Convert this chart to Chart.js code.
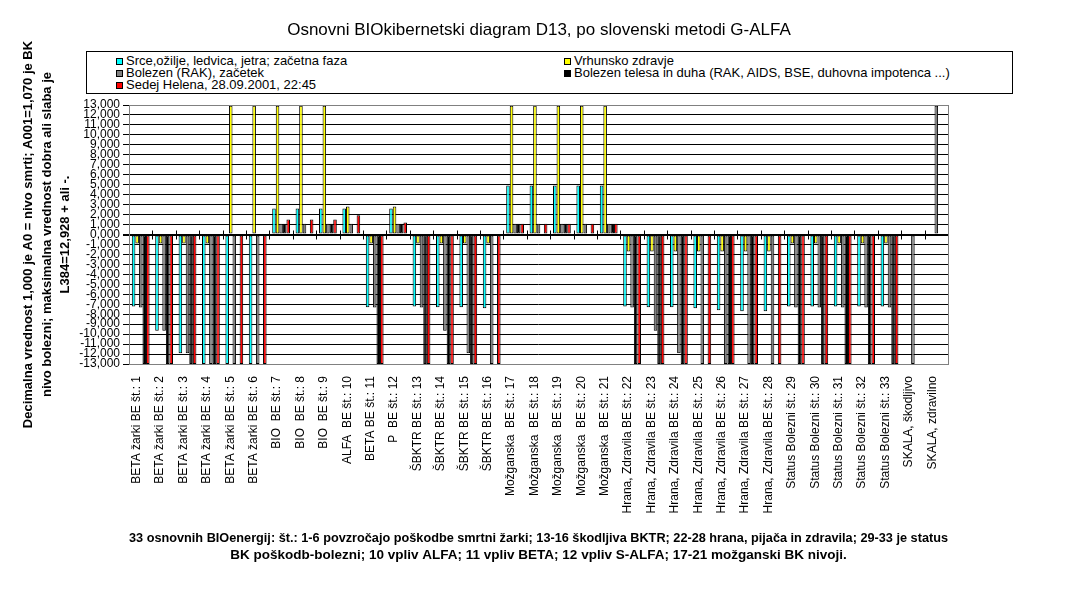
<!DOCTYPE html>
<html>
<head>
<meta charset="utf-8">
<script src="https://cdn.jsdelivr.net/npm/chart.js@4.4.0/dist/chart.umd.min.js"></script>
<style>
  body { margin: 0; background: #fff; }
  #wrap { position: relative; width: 1078px; height: 601px; }
  #legend {
    position: absolute; left: 86px; top: 51px; width: 896px; height: 38px;
    border: 1px solid #000; background: #fff; padding: 3px 0 0 29px;
    display: grid; grid-template-columns: 448px 420px; grid-auto-rows: 12px;
    font: 13px "Liberation Sans", Arial, sans-serif; color: #000;
  }
  #legend div { display: flex; align-items: center; white-space: pre; line-height: 12px; }
  #legend span.box { width: 5px; height: 5px; border: 1px solid #000; margin-right: 3px; }
</style>
</head>
<body>
<div id="wrap">
  <canvas id="myChart" width="1078" height="601"></canvas>
  <div id="legend"></div>
</div>
<script>
// categories (x axis)
const labels = [
  'BETA žarki BE št.: 1', 'BETA žarki BE št.: 2', 'BETA žarki BE št.: 3', 'BETA žarki BE št.: 4',
  'BETA žarki BE št.: 5', 'BETA žarki BE št.: 6', 'BIO  BE št.: 7', 'BIO  BE št.: 8', 'BIO  BE št.: 9',
  'ALFA  BE št.: 10', 'BETA BE št.: 11', 'P  BE št.: 12', 'ŠBKTR BE št.: 13', 'ŠBKTR BE št.: 14',
  'ŠBKTR BE št.: 15', 'ŠBKTR BE št.: 16', 'Možganska  BE št.: 17', 'Možganska  BE št.: 18',
  'Možganska  BE št.: 19', 'Možganska  BE št.: 20', 'Možganska  BE št.: 21',
  'Hrana, Zdravila BE št.: 22', 'Hrana, Zdravila BE št.: 23', 'Hrana, Zdravila BE št.: 24',
  'Hrana, Zdravila BE št.: 25', 'Hrana, Zdravila BE št.: 26', 'Hrana, Zdravila BE št.: 27',
  'Hrana, Zdravila BE št.: 28', 'Status Bolezni št.: 29', 'Status Bolezni št.: 30',
  'Status Bolezni št.: 31', 'Status Bolezni št.: 32', 'Status Bolezni št.: 33',
  'SKALA, škodljivo', 'SKALA, zdravilno'
];

// series values
const srce = [-7.23, -9.67, -11.93, -13, -13, -13, 2.6, 2.6, 2.6, 2.6, -7.3, 2.6, -7.23, -7.3, -7.3, -7.4,
  4.93, 4.93, 4.93, 4.93, 4.93, -7.23, -7.3, -7.3, -7.4, -7.6, -7.7, -7.7, -7.23, -7.23, -7.23, -7.23, -7.23, null, null];
const vrhunsko = [-0.9, -0.9, -0.9, -0.9, 12.93, 12.93, 12.93, 12.93, 12.93, 2.8, -0.9, 2.8, -0.9, -0.9, -0.9, -0.9,
  12.93, 12.93, 12.93, 12.93, 12.93, -1.7, -1.7, -1.7, -1.7, -1.7, -1.7, -1.7, -0.9, -0.9, -0.9, -0.9, -0.9, null, null];
const bolezenRak = [-7.33, -9.67, -11.93, -13, -13, -13, 1.07, 1.07, 1.07, 1.07, -7.33, 1.07, -7.33, -9.67, -11.93, -13,
  1.07, 1.07, 1.07, 1.07, 1.07, -7.33, -9.67, -11.93, -13, -13, -13, -13, -7.33, -7.33, -7.33, -7.33, -7.33, -13, 12.93];
const bolezenTelesa = [-13, -13, -13, -13, null, null, 1.07, null, 1.07, null, -13, 1.07, -13, -13, -13, null,
  1.07, null, 1.07, null, 1.07, -13, -13, -13, null, -13, -13, null, -13, -13, -13, -13, -13, null, null];
const sedej = [-13, -13, -13, -13, -13, -13, 1.5, 1.5, 1.5, 1.93, -13, 1.2, -13, -13, -13, -13,
  1.07, 1.07, 1.07, 1.07, 1.07, -13, -13, -13, -13, -13, -13, -13, -13, -13, -13, -13, -13, null, null];

// y ticks -13 .. 13
const yMin = -13;
const yMax = 13;

const seriesNames = [
  'Srce,ožilje, ledvica, jetra; začetna faza',
  'Vrhunsko zdravje',
  'Bolezen (RAK), začetek',
  'Bolezen telesa in duha (RAK, AIDS, BSE, duhovna impotenca ...)',
  'Sedej Helena, 28.09.2001, 22:45'
];
const seriesColors = ['#00FFFF', '#FFFF00', '#808080', '#000000', '#FF0000'];
const seriesData = [srce, vrhunsko, bolezenRak, bolezenTelesa, sedej];

const fontFam = '"Liberation Sans", Arial, sans-serif';
Chart.defaults.font.family = fontFam;
Chart.defaults.color = '#000';

// gray frame round the plot + little ticks on the zero line
const plotFrame = {
  id: 'plotFrame',
  beforeDatasetsDraw(chart) {
    const {ctx, scales: {x, y}} = chart;
    const y0 = y.getPixelForValue(0);
    ctx.save();
    ctx.strokeStyle = '#000';
    ctx.lineWidth = 1;
    for (let i = 1; i <= labels.length; i++) {
      const px = Math.round(x.getPixelForValue(i - 0.5)) + 0.5;
      ctx.beginPath();
      ctx.moveTo(px, y0 - 4);
      ctx.lineTo(px, y0 + 5);
      ctx.stroke();
    }
    ctx.restore();
  },
  afterDraw(chart) {
    const {ctx, chartArea: a} = chart;
    ctx.save();
    ctx.strokeStyle = '#808080';
    ctx.lineWidth = 1;
    ctx.strokeRect(Math.round(a.left) + 0.5, Math.round(a.top) + 0.5,
      Math.round(a.right - a.left), Math.round(a.bottom - a.top));
    ctx.restore();
  }
};

const ctx = document.getElementById('myChart').getContext('2d');
const myChart = new Chart(ctx, {
  type: 'bar',
  data: {
    labels: labels,
    datasets: seriesData.map((d, i) => ({
      label: seriesNames[i],
      data: d,
      backgroundColor: seriesColors[i],
      borderColor: '#000',
      borderWidth: 1,
      borderSkipped: false,
      categoryPercentage: 0.76,
      barPercentage: 1.0
    }))
  },
  options: {
    responsive: false,
    animation: false,
    layout: { padding: 0 },
    plugins: {
      legend: { display: false },
      tooltip: { enabled: false },
      title: {
        display: true,
        text: 'Osnovni BIOkibernetski diagram D13, po slovenski metodi G-ALFA',
        font: { size: 17, weight: 'normal', lineHeight: '20px' },
        color: '#000',
        padding: { top: 20, bottom: 65 }
      }
    },
    scales: {
      x: {
        grid: { display: false, drawTicks: false },
        border: { display: false },
        ticks: {
          autoSkip: false,
          minRotation: 90,
          maxRotation: 90,
          padding: 12,
          labelOffset: -4,
          font: { size: 12 }
        },
        title: {
          display: true,
          text: [
            '33 osnovnih BIOenergij: št.: 1-6 povzročajo poškodbe smrtni žarki; 13-16 škodljiva BKTR; 22-28 hrana, pijača in zdravila; 29-33 je status',
            'BK poškodb-bolezni; 10 vpliv ALFA; 11 vpliv BETA; 12 vpliv S-ALFA; 17-21 možganski BK nivoji.'
          ],
          font: { size: 13.5, weight: 'bold', lineHeight: '17px' },
          padding: { top: 0, bottom: 37.5 }
        },
        afterFit(scale) { scale.height = 237; }
      },
      y: {
        min: yMin,
        max: yMax,
        border: { display: false },
        grid: {
          color: c => (c.tick.value === yMin || c.tick.value === yMax) ? '#808080' : '#000',
          lineWidth: c => c.tick.value === 0 ? 2 : 1,
          tickColor: '#000',
          tickLength: 6
        },
        ticks: {
          stepSize: 1,
          autoSkip: false,
          padding: 3,
          font: { size: 12 },
          callback: v => v.toFixed(3).replace('.', ',')
        },
        title: {
          display: true,
          text: [
            'Decimalna vrednost 1,000 je A0 = nivo smrti; A001=1,070 je BK',
            'nivo bolezni; maksimalna vrednost dobra ali slaba je',
            'L384=12,928 + ali -.'
          ],
          font: { size: 13, weight: 'bold', lineHeight: '18.4px' },
          padding: { top: 19.5, bottom: 0 }
        },
        afterFit(scale) { scale.width = 129; }
      },
      // empty space on the right, so the title sits in the middle of the page
      rightSpace: {
        type: 'linear',
        position: 'right',
        grid: { display: false, drawTicks: false },
        border: { display: false },
        ticks: { display: false },
        afterFit(scale) { scale.width = 130; }
      }
    }
  },
  plugins: [plotFrame]
});

// legend in two columns, like the original
const legendBox = document.getElementById('legend');
myChart.data.datasets.forEach(ds => {
  const item = document.createElement('div');
  item.innerHTML = `<span class="box" style="background:${ds.backgroundColor}"></span>${ds.label}`;
  legendBox.appendChild(item);
});
</script>
</body>
</html>
